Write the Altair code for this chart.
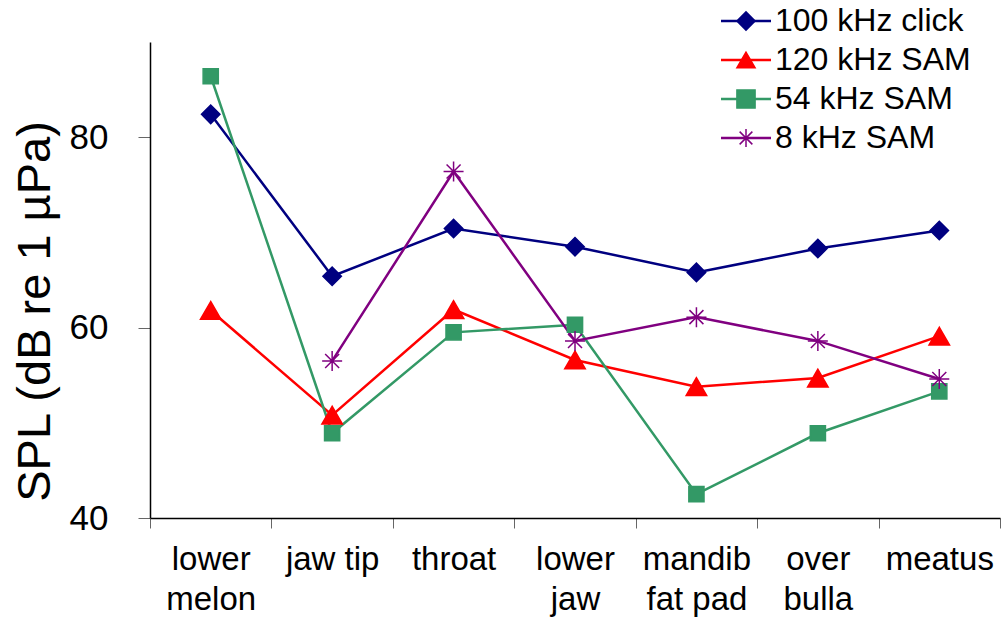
import altair as alt
import pandas as pd

categories = ["lower\nmelon", "jaw tip", "throat", "lower\njaw", "mandib\nfat pad", "over\nbulla", "meatus"]
series = ["100 kHz click", "120 kHz SAM", "54 kHz SAM", "8 kHz SAM"]
click_100 = [82.4, 65.4, 70.4, 68.5, 65.8, 68.3, 70.2]
sam_120 = [61.8, 50.8, 61.9, 56.6, 53.8, 54.7, 59.1]
sam_54 = [86.4, 48.9, 59.5, 60.3, 42.5, 48.9, 53.3]
sam_8 = [None, 56.5, 76.4, 58.6, 61.1, 58.6, 54.6]
colors = ["#000080", "#FF0000", "#339966", "#800080"]
asterisk = "M-1,0L1,0M0,-1L0,1M-0.7,-0.7L0.7,0.7M-0.7,0.7L0.7,-0.7"
shapes = ["diamond", "triangle-up", "square", asterisk]
sizes = [340, 420, 230, 400]

rows = []
for name, vals in zip(series, [click_100, sam_120, sam_54, sam_8]):
    for cat, v in zip(categories, vals):
        if v is not None:
            rows.append({"location": cat, "spl": v, "series": name, "marker": name})
df = pd.DataFrame(rows)

FONT = "Liberation Sans"

x_enc = alt.X(
    "location:N", sort=categories,
    scale=alt.Scale(type="band", domain=categories, paddingInner=0, paddingOuter=0),
    axis=alt.Axis(
        title=None, labelAngle=0, labelFont=FONT, labelFontSize=33, labelColor="black",
        labelExpr="split(datum.label, '\\n')", labelLineHeight=40, labelPadding=15,
        tickBand="extent", tickSize=10, tickColor="#666666", domainColor="black",
        domainWidth=1.5, labelBaseline="top",
    ),
)
y_enc = alt.Y(
    "spl:Q",
    scale=alt.Scale(domain=[40, 90], nice=False, zero=False),
    axis=alt.Axis(
        values=[40, 60, 80], title="SPL (dB re 1 µPa)", titleFont=FONT, titleFontSize=47,
        titleFontWeight="normal", titleColor="black", titlePadding=10, titleY=269,
        labelFont=FONT, labelFontSize=35, labelColor="black", labelPadding=30,
        tickSize=12, tickColor="#666666", domainColor="black", domainWidth=1.5, grid=False,
    ),
)

base = alt.Chart(df).encode(x=x_enc, y=y_enc)

lines = base.mark_line(strokeWidth=2.5).encode(
    color=alt.Color(
        "series:N", sort=series,
        scale=alt.Scale(range=colors),
        legend=alt.Legend(
            orient="none", legendX=580, legendY=-37, title=None,
            symbolType="M-2.5,0L2.5,0", symbolSize=400, symbolStrokeWidth=2.5,
            labelFont=FONT, labelFontSize=32, labelColor="black", labelOffset=13,
            labelLimit=400, rowPadding=7, padding=0,
        ),
    )
)

shape_legend = alt.Legend(
    orient="none", legendX=580, legendY=-37, title=None, symbolSize=330,
    symbolStrokeWidth=1.5, symbolOpacity=1, labelFont=FONT, labelFontSize=32, labelOpacity=0,
    labelOffset=13, labelLimit=400, rowPadding=7, padding=0,
)

points = base.mark_point(filled=True, opacity=1, strokeWidth=1.5).encode(
    shape=alt.Shape("marker:N", sort=series, scale=alt.Scale(domain=series, range=shapes), legend=shape_legend),
    fill=alt.Fill("marker:N", sort=series, scale=alt.Scale(domain=series, range=colors), legend=shape_legend),
    stroke=alt.Stroke("marker:N", sort=series, scale=alt.Scale(domain=series, range=colors), legend=shape_legend),
    size=alt.Size("marker:N", sort=series, scale=alt.Scale(type="ordinal", domain=series, range=sizes), legend=None),
)

chart = (
    alt.layer(lines, points)
    .resolve_legend(color="independent", shape="independent", fill="independent", stroke="independent")
    .properties(
        width=850, height=476,
        padding={"left": 150, "top": 42, "right": 6, "bottom": 108},
        autosize=alt.AutoSizeParams(type="none"),
        background="white",
    )
    .configure_view(stroke=None)
)

chart.save("out.html", embed_options={"renderer": "svg", "actions": False})
